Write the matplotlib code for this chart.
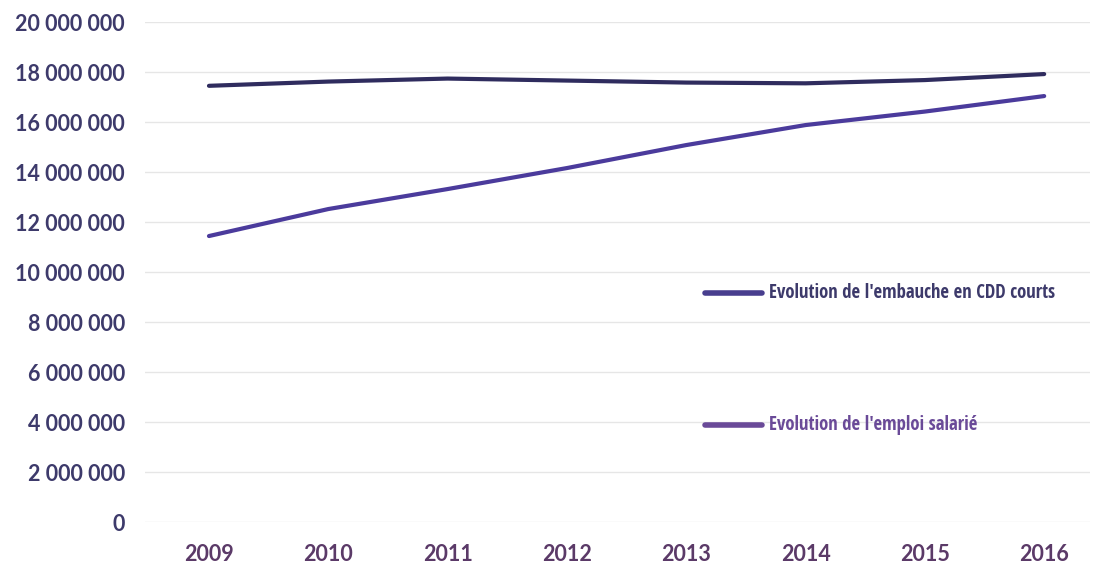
import matplotlib.pyplot as plt
from matplotlib.ticker import FuncFormatter

years = [2009, 2010, 2011, 2012, 2013, 2014, 2015, 2016]
emploi_salarie = [17.45e6, 17.62e6, 17.74e6, 17.66e6, 17.58e6, 17.55e6, 17.68e6, 17.92e6]
embauche_cdd = [11.44e6, 12.52e6, 13.32e6, 14.16e6, 15.08e6, 15.88e6, 16.42e6, 17.04e6]

labels = ["Evolution de l'embauche en CDD courts", "Evolution de l'emploi salarié"]

TEXT = "#3d3a6b"
XTEXT = "#5b3a68"
NAVY = "#2f2c5e"
PURPLE = "#4b3b9c"

plt.rcParams['font.family'] = ['Lato', 'DejaVu Sans']

fig = plt.figure(figsize=(10.95, 5.69), dpi=100)
ax = fig.add_axes([0.132, 0.0826, 0.863, 0.8786])

ax.plot(years, emploi_salarie, color=NAVY, linewidth=3, solid_capstyle='round', zorder=3)
ax.plot(years, embauche_cdd, color=PURPLE, linewidth=3, solid_capstyle='round', zorder=3)

ax.set_ylim(0, 20e6)
ax.set_xlim(2008.46, 2016.38)
ax.set_yticks(range(0, 20000001, 2000000))
ax.set_xticks(years)
ax.yaxis.set_major_formatter(FuncFormatter(lambda v, p: f"{int(v):,}".replace(",", " ")))
ax.grid(axis='y', color="#e6e6e6", linewidth=1, zorder=0)
for s in ax.spines.values():
    s.set_visible(False)
ax.tick_params(length=0, labelsize=15.5)
ax.tick_params(axis='y', colors=TEXT, pad=14)
ax.tick_params(axis='x', colors=XTEXT, pad=16)
for lab in ax.get_xticklabels() + ax.get_yticklabels():
    lab.set_fontweight('bold')

# légende dans la zone de tracé
leg_colors = ["#483e8e", "#6a4a98"]
leg_y = [0.458, 0.194]
for lbl, c, y in zip(labels, leg_colors, leg_y):
    ax.plot([0.593, 0.653], [y, y], transform=ax.transAxes, color=c, linewidth=4,
            solid_capstyle='round', clip_on=False)
    ax.text(0.661, y, lbl, transform=ax.transAxes, va='center', ha='left',
            fontsize=13.5, fontweight='bold', color=c if y < 0.3 else TEXT,
            family=['Open Sans Condensed', 'Liberation Sans Narrow', 'Lato', 'DejaVu Sans'])

fig.savefig("out.png", dpi=100)
